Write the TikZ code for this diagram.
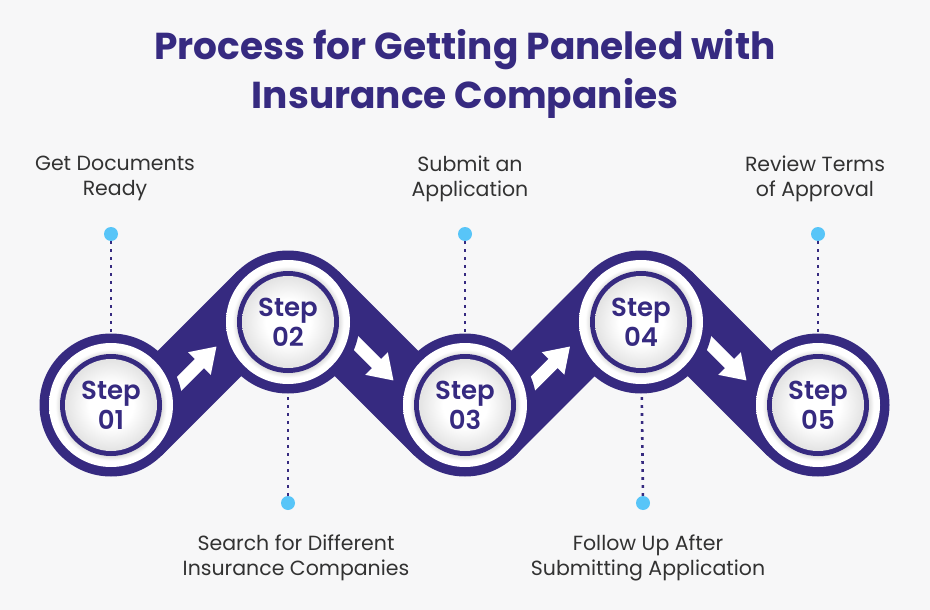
\documentclass[tikz,border=0pt]{standalone}
\usepackage{fontspec}
\setmainfont{Poppins}
\IfFontExistsTF{Poppins SemiBold}{\newfontfamily\stepfont{Poppins SemiBold}}{\def\stepfont{\bfseries}}
\definecolor{navy}{RGB}{54,42,128}
\definecolor{dotc}{RGB}{88,197,248}
\definecolor{txt}{RGB}{50,50,50}
\definecolor{bg}{RGB}{247,247,248}
\pgfdeclareradialshading{discshade}{\pgfpoint{0bp}{0bp}}{color(0bp)=(white); color(12bp)=(white); color(25bp)=(black!11); color(50bp)=(black!11)}
\pgfdeclareradialshading{ringshade}{\pgfpoint{0bp}{0bp}}{color(0bp)=(black!16); color(20bp)=(black!16); color(22.5bp)=(white); color(25bp)=(white); color(50bp)=(white)}
\begin{document}
\begin{tikzpicture}[x=1pt,y=-1pt,
  steptext/.style={font=\stepfont\fontsize{26}{30}\selectfont, text=navy, align=center, circle, minimum size=143pt, inner sep=0pt},
  lbl/.style={font=\fontsize{20.5}{25}\selectfont, text=txt, align=center},
  dotn/.style={circle, fill=dotc, minimum size=14pt, inner sep=0pt},
  dotline/.style={navy, line width=2.6pt, dash pattern=on 2.6pt off 5.4pt},
  bandfill/.style={fill=navy},
  arrowfill/.style={fill=white}]
\fill[bg] (0,0) rectangle (930,610);
\useasboundingbox (0,0) rectangle (930,610);
% bands with arrows
\foreach \mx/\my/\ang in {199.5/363.5/45, 376.5/363.5/-45, 553/363.5/45, 729.5/363.5/-45} {
  \begin{scope}[shift={(\mx,\my)}, rotate=\ang]
    \path[bandfill] (-92,-38.5) rectangle (92,38.5);
    \path[arrowfill] (-70,-6.5) -- (0,-6.5) -- (0,-16) -- (24,0) -- (0,16) -- (0,6.5) -- (-70,6.5) -- cycle;
  \end{scope}}
% step circles
\foreach \i/\x/\y in {1/111/405, 2/288/322, 3/465/405, 4/641/322, 5/818/405} {
  \fill[navy] (\x,\y) circle[radius=71.5pt];
  \shade[shading=ringshade] (\x,\y) circle[radius=62pt];
  \fill[navy] (\x,\y) circle[radius=51pt];
  \shade[shading=discshade] (\x,\y) circle[radius=46pt];
  \node[steptext] (s\i) at (\x,\y) {Step\\0\i};
}
% dots
\node[dotn] (d1) at (111,234) {};
\node[dotn] (d3) at (465,234) {};
\node[dotn] (d5) at (818,234) {};
\node[dotn] (d2) at (288,503) {};
\node[dotn] (d4) at (643,503) {};
\draw[dotline] (d1) -- (s1);
\draw[dotline] (d3) -- (s3);
\draw[dotline] (d5) -- (s5);
\draw[dotline] (d2) -- (s2);
\draw[dotline] (d4) -- (s4);
% labels
\node[lbl] (l1) at (115,178.5) {Get Documents\\Ready};
\node[lbl] (l3) at (470,178.5) {Submit an\\Application};
\node[lbl] (l5) at (815,178.5) {Review Terms\\of Approval};
\node[lbl] (l2) at (296,557.5) {Search for Different\\Insurance Companies};
\node[lbl] (l4) at (648,557.5) {Follow Up After\\Submitting Application};
% title
\node[font=\bfseries\fontsize{37.5}{49}\selectfont, text=navy, align=center] (title) at (465,74) {Process for Getting Paneled with\\Insurance Companies};
\end{tikzpicture}
\end{document}
